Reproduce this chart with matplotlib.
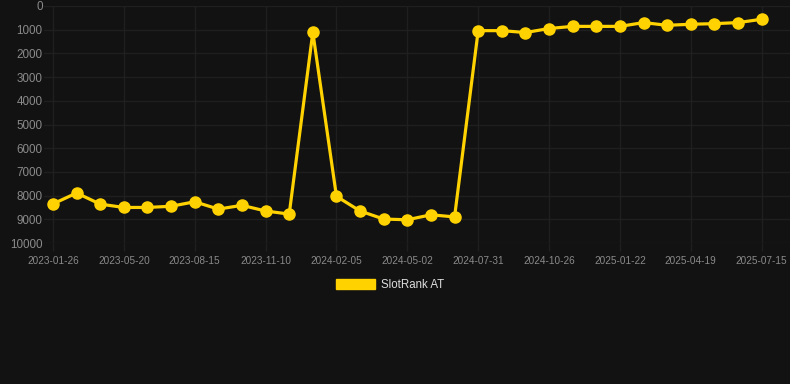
import matplotlib.pyplot as plt
from matplotlib.patches import Patch

# data
dates = ["2023-01-26", "2023-03-06", "2023-04-13", "2023-05-20", "2023-06-18",
         "2023-07-17", "2023-08-15", "2023-09-13", "2023-10-12", "2023-11-10",
         "2023-12-09", "2024-01-07", "2024-02-05", "2024-03-05", "2024-04-03",
         "2024-05-02", "2024-06-01", "2024-07-01", "2024-07-31", "2024-08-29",
         "2024-09-27", "2024-10-26", "2024-11-24", "2024-12-23", "2025-01-22",
         "2025-02-20", "2025-03-21", "2025-04-19", "2025-05-18", "2025-06-16",
         "2025-07-15"]
rank = [8350, 7890, 8360, 8500, 8500, 8450, 8260, 8570, 8410, 8650,
        8780, 1110, 8030, 8650, 8990, 9020, 8810, 8900, 1040, 1040,
        1120, 950, 860, 860, 860, 700, 815, 770, 745, 700, 560]

bg = "#121212"
gold = "#FFD200"
grid_c = "#1f1f1f"
tick_c = "#8a8a8a"

fig = plt.figure(figsize=(7.9, 3.84), dpi=100, facecolor=bg)
ax = fig.add_axes([44 / 790, (384 - 243) / 384, 746 / 790, 237 / 384])
ax.set_facecolor(bg)

x = list(range(len(dates)))
ax.plot(x, rank, color=gold, linewidth=2.3, marker="o", markersize=8,
        solid_joinstyle="miter", zorder=3)

ax.set_ylim(10000, 0)
ax.set_yticks(range(0, 10001, 1000))
ax.set_xlim(-0.38, 31.2)
ax.set_xticks(x[::3])
ax.set_xticklabels(dates[::3])

ax.grid(True, color=grid_c, linewidth=1)
for s in ax.spines.values():
    s.set_visible(False)
ax.tick_params(axis="y", length=0, pad=1, labelsize=8.4, colors=tick_c)
ax.tick_params(axis="x", length=6, width=1, color=grid_c, pad=3,
               labelsize=7.2, colors=tick_c)
for lab in ax.get_xticklabels() + ax.get_yticklabels():
    lab.set_fontfamily("Liberation Sans")

handle = Patch(facecolor=gold, edgecolor=gold)
leg = fig.legend([handle], ["SlotRank AT"], loc="center",
                 bbox_to_anchor=(390 / 790, 1 - 285 / 384), frameon=False,
                 handlelength=3.45, handleheight=1.0, handletextpad=0.52,
                 prop={"family": "Liberation Sans", "size": 8.3})
for t in leg.get_texts():
    t.set_color("#dddddd")

fig.savefig("out.png", dpi=100, facecolor=bg)
